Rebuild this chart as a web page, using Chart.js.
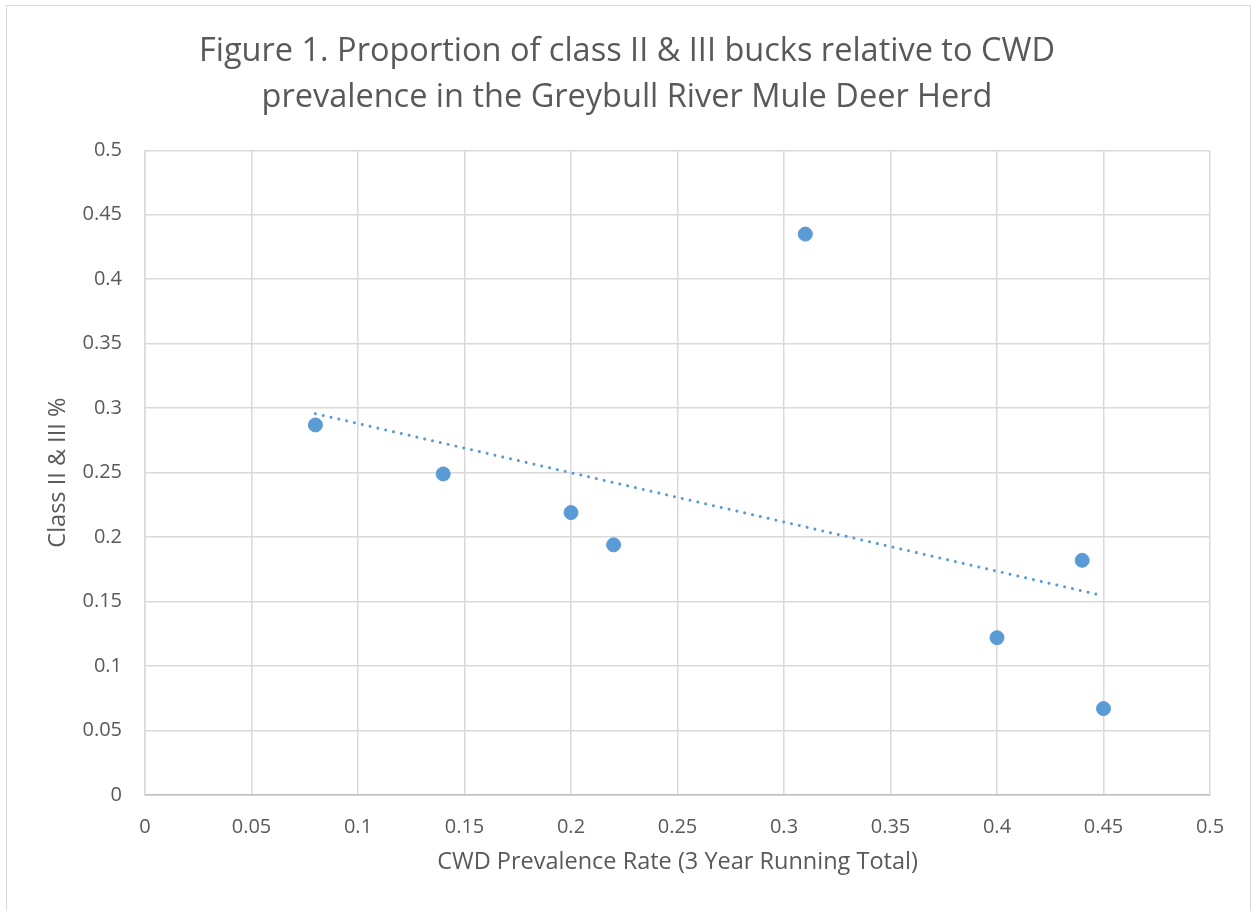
<!DOCTYPE html>
<html>
<head>
<meta charset="utf-8">
<script src="https://cdn.jsdelivr.net/npm/chart.js@4.4.1/dist/chart.umd.min.js"></script>
<style>
  html, body { margin: 0; padding: 0; background: #fff; }
  #wrap { position: relative; width: 1254px; height: 911px; }
</style>
</head>
<body>
<div id="wrap"><canvas id="chart" width="1254" height="911"></canvas></div>
<script>
// datos
const prevalence = [0.08, 0.14, 0.20, 0.22, 0.31, 0.40, 0.44, 0.45];
const classPct = [0.287, 0.249, 0.219, 0.194, 0.435, 0.122, 0.182, 0.067];
const xTickLabels = ['0', '0.05', '0.1', '0.15', '0.2', '0.25', '0.3', '0.35', '0.4', '0.45', '0.5'];
const yTickLabels = ['0', '0.05', '0.1', '0.15', '0.2', '0.25', '0.3', '0.35', '0.4', '0.45', '0.5'];

const BLUE = '#5B9BD5';
const GREY_TXT = '#595959';
const FONT = "'Open Sans', 'Noto Sans', sans-serif";

// línea de tendencia lineal (mínimos cuadrados) entre el primer y último x
function trendLine(xs, ys) {
  const n = xs.length;
  const mx = xs.reduce((a, b) => a + b, 0) / n;
  const my = ys.reduce((a, b) => a + b, 0) / n;
  let sxy = 0, sxx = 0;
  xs.forEach((x, i) => { sxy += (x - mx) * (ys[i] - my); sxx += (x - mx) * (x - mx); });
  const m = sxy / sxx, b = my - m * mx;
  const x0 = Math.min(...xs), x1 = Math.max(...xs);
  return [{ x: x0, y: m * x0 + b }, { x: x1, y: m * x1 + b }];
}

const outerBorder = {
  id: 'outerBorder',
  beforeDraw(chart) {
    const ctx = chart.ctx;
    ctx.save();
    ctx.fillStyle = '#fff';
    ctx.fillRect(0, 0, chart.width, chart.height);
    ctx.strokeStyle = '#D9D9D9';
    ctx.lineWidth = 1;
    ctx.strokeRect(6.5, 5.5, 1244, 920);
    ctx.restore();
  }
};

new Chart(document.getElementById('chart'), {
  type: 'scatter',
  data: {
    datasets: [
      {
        label: 'Class II & III %',
        data: prevalence.map((x, i) => ({ x, y: classPct[i] })),
        backgroundColor: BLUE,
        borderColor: BLUE,
        pointRadius: 7,
        pointHoverRadius: 7,
        order: 1,
      },
      {
        type: 'line',
        label: 'Linear',
        data: trendLine(prevalence, classPct),
        borderColor: BLUE,
        borderWidth: 3,
        borderDash: [0.01, 8],
        borderCapStyle: 'round',
        pointRadius: 0,
        fill: false,
        order: 0,
      },
    ],
  },
  options: {
    responsive: false,
    animation: false,
    layout: { padding: { left: 44, right: 44, top: 0, bottom: 0 } },
    plugins: {
      legend: { display: false },
      tooltip: { enabled: false },
      title: {
        display: true,
        text: ['Figure 1. Proportion of class II & III bucks relative to CWD', 'prevalence in the Greybull River Mule Deer Herd'],
        color: GREY_TXT,
        font: { family: FONT, size: 32.5, weight: 'normal', lineHeight: 1.42 },
        padding: { top: 29, bottom: 29 },
      },
    },
    scales: {
      x: {
        type: 'linear',
        min: 0,
        max: 0.5,
        ticks: {
          stepSize: 0.05,
          color: GREY_TXT,
          font: { family: FONT, size: 20 },
          padding: 20,
          maxRotation: 0,
          callback: (v, i) => xTickLabels[i],
        },
        grid: { color: '#D9D9D9', lineWidth: 1.5, drawTicks: false },
        border: { color: '#BFBFBF', width: 1.5 },
        title: {
          display: true,
          text: 'CWD Prevalence Rate (3 Year Running Total)',
          color: GREY_TXT,
          font: { family: FONT, size: 23.5 },
          padding: { top: 0, bottom: 35 },
        },
        afterFit(scale) { scale.height = 116; },
      },
      y: {
        min: 0,
        max: 0.5,
        ticks: {
          stepSize: 0.05,
          color: GREY_TXT,
          font: { family: FONT, size: 20 },
          padding: 23,
          callback: (v, i) => yTickLabels[i],
        },
        grid: { color: '#D9D9D9', lineWidth: 1.5, drawTicks: false },
        border: { color: '#D9D9D9', width: 1.5 },
        title: {
          display: true,
          text: 'Class II & III %',
          color: GREY_TXT,
          font: { family: FONT, size: 23.5 },
          padding: { top: 0, bottom: 0 },
        },
        afterFit(scale) { scale.width = 101; },
      },
    },
  },
  plugins: [outerBorder],
});
</script>
</body>
</html>
